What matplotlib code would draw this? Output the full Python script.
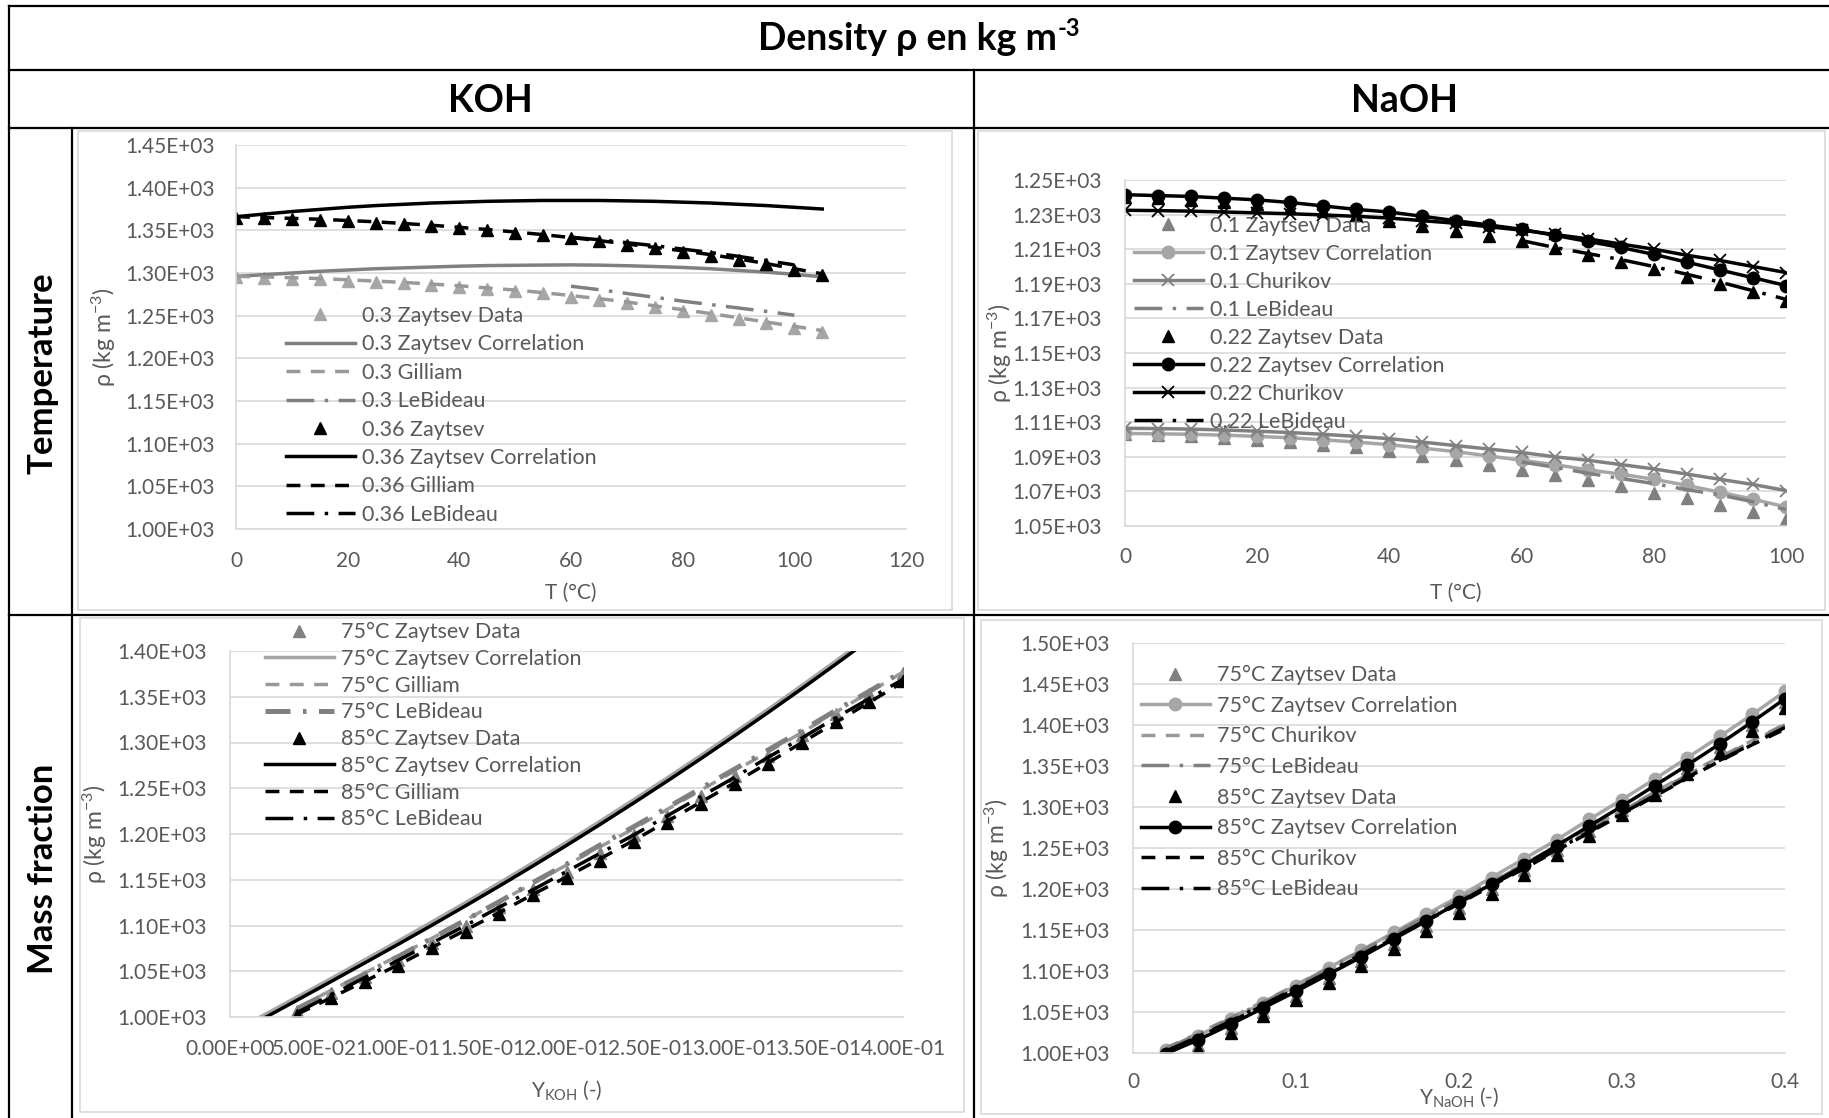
import numpy as np
import matplotlib.pyplot as plt
from matplotlib.ticker import FuncFormatter, FixedLocator
from matplotlib.lines import Line2D
from matplotlib.patches import Rectangle

plt.rcParams['font.family'] = ['Lato', 'DejaVu Sans']
plt.rcParams['mathtext.fontset'] = 'custom'
plt.rcParams['mathtext.rm'] = 'Lato'
plt.rcParams['mathtext.it'] = 'Lato:italic'
plt.rcParams['mathtext.bf'] = 'Lato:bold'

# ---- KOH, density vs temperature ----
T_KOH = [0, 5, 10, 15, 20, 25, 30, 35, 40, 45, 50, 55, 60, 65, 70, 75, 80, 85, 90, 95, 100, 105]
T_LEBIDEAU = [60, 65, 70, 75, 80, 85, 90, 95, 100]
koh30_data = [1295, 1294.5, 1293.5, 1292.5, 1291, 1289.5, 1288, 1286, 1284, 1281.5, 1279,
              1276, 1272, 1268.5, 1264.5, 1260, 1255.5, 1251, 1246, 1241, 1236, 1231]
koh30_corr = [1296, 1298, 1300, 1302, 1303.5, 1305, 1306, 1307, 1308, 1308.7, 1309,
              1309.3, 1309.5, 1309.2, 1308.5, 1307.6, 1306.5, 1305, 1303, 1301, 1298.5, 1295.5]
koh30_gilliam = [1296, 1295.5, 1294.5, 1293.5, 1292, 1290.5, 1289, 1287, 1285, 1282.5, 1280,
                 1277, 1273.5, 1270, 1266, 1261.5, 1257, 1252.5, 1247.5, 1242.5, 1237.5, 1232.5]
koh30_lebideau = [1284.5, 1280.5, 1276, 1271.5, 1267, 1263, 1259, 1255, 1250.5]
koh36_data = [1365, 1364, 1363, 1362, 1360.5, 1359, 1357, 1355, 1352.5, 1350, 1347,
              1344, 1340.5, 1337, 1333, 1329, 1325, 1320.5, 1315.5, 1310, 1304, 1298]
koh36_corr = [1366, 1369, 1372, 1374.5, 1377, 1379, 1380.5, 1382, 1383, 1384, 1384.5,
              1385, 1385, 1385, 1384.5, 1384, 1383, 1382, 1380.5, 1379, 1377, 1375]
koh36_gilliam = [1366, 1365, 1364, 1363, 1361.5, 1360, 1358, 1356, 1353.5, 1351, 1348,
                 1345, 1341.5, 1338, 1334, 1330, 1326, 1321.5, 1316.5, 1311, 1305, 1299]
koh36_lebideau = [1342, 1339, 1335.5, 1332, 1328, 1324, 1319.5, 1314.5, 1309.5]

# ---- NaOH, density vs temperature ----
T_NAOH = [0, 5, 10, 15, 20, 25, 30, 35, 40, 45, 50, 55, 60, 65, 70, 75, 80, 85, 90, 95, 100]
naoh10_data = [1103, 1102.5, 1102, 1101, 1100, 1098.5, 1097, 1095.5, 1093.5, 1090.5, 1088,
               1085.5, 1082.5, 1079.5, 1076.5, 1073, 1069, 1066, 1062, 1058, 1054]
naoh10_corr = [1103.5, 1103.3, 1103, 1102.5, 1101.8, 1101, 1099.8, 1098.5, 1097, 1095, 1093,
               1090.5, 1088, 1085.5, 1082.5, 1080, 1077, 1073.5, 1069.5, 1065.5, 1061]
naoh10_churikov = [1106.5, 1106.3, 1106, 1105.5, 1104.8, 1104, 1103, 1101.8, 1100.5, 1098.5, 1096.5,
                   1094.5, 1092.5, 1090, 1088, 1085.5, 1083, 1080, 1077, 1074, 1070.5]
naoh10_lebideau = [1087, 1084, 1080.5, 1077.5, 1074.5, 1071, 1068, 1064, 1059.5]
naoh22_data = [1240, 1239.5, 1238.5, 1237.5, 1236, 1234, 1232, 1229.5, 1226.5, 1223.5, 1220.5,
               1217.5, 1214.5, 1210.5, 1206.5, 1202.5, 1198.5, 1194, 1190, 1185, 1180]
naoh22_corr = [1241.5, 1241, 1240.5, 1239.5, 1238.5, 1237, 1235, 1233, 1231.5, 1229, 1226.5,
               1224, 1221.5, 1218, 1214.5, 1211, 1207, 1202.5, 1198, 1193.5, 1189]
naoh22_churikov = [1232.5, 1232.3, 1232, 1231.5, 1231, 1230.5, 1229.8, 1229, 1228, 1226.5, 1225,
                   1223, 1221, 1218.5, 1216, 1213, 1210, 1206.5, 1203.5, 1200, 1196.5]
naoh22_lebideau = [1215, 1211, 1207.5, 1204, 1200, 1195.5, 1191, 1186, 1181]

# ---- KOH, density vs mass fraction ----
Y_KOH_CORR = [0.00, 0.02, 0.04, 0.06, 0.08, 0.10, 0.12, 0.14, 0.16, 0.18, 0.20,
              0.22, 0.24, 0.26, 0.28, 0.30, 0.32, 0.34, 0.36, 0.38, 0.40]
Y_KOH = [0.04, 0.06, 0.08, 0.10, 0.12, 0.14, 0.16, 0.18, 0.20, 0.22,
         0.24, 0.26, 0.28, 0.30, 0.32, 0.34, 0.36, 0.38, 0.40]
koh75_corr = [982.5, 1002, 1022, 1042, 1062.5, 1083, 1104, 1125, 1146.5, 1168.5, 1191,
              1214, 1237.5, 1261.5, 1286, 1311, 1336.5, 1362.5, 1389, 1416, 1443.5]
koh85_corr = [979, 998.5, 1018.5, 1038.7, 1059, 1079.5, 1100.3, 1121.5, 1143, 1165, 1187.5,
              1210.5, 1234, 1258, 1282.5, 1307.5, 1333, 1359, 1385.5, 1412.5, 1440]
koh75_data = [1007, 1026, 1044, 1062, 1081, 1100, 1120, 1140, 1159, 1179,
              1199, 1220, 1241, 1263, 1285, 1308, 1331, 1353, 1376]
koh75_gilliam = [1010, 1029, 1048, 1067, 1086, 1106, 1126, 1146, 1166, 1186,
                 1206, 1227, 1248, 1269, 1290, 1311, 1333, 1355, 1377]
koh75_lebideau = [1009, 1028, 1047, 1066, 1086, 1106, 1126, 1147, 1167, 1188,
                  1208, 1229, 1250, 1271, 1292, 1313, 1335, 1356, 1378]
koh85_data = [1002, 1021, 1038, 1056, 1075, 1093, 1113, 1133, 1152, 1171,
              1191, 1212, 1233, 1255, 1277, 1299, 1322, 1344, 1367]
koh85_gilliam = [1003, 1021, 1039, 1057, 1076, 1095, 1114, 1134, 1153, 1173,
                 1193, 1214, 1235, 1256, 1278, 1300, 1322, 1344, 1366]
koh85_lebideau = [1005, 1024, 1043, 1062, 1081, 1100, 1120, 1139, 1159, 1179,
                  1199, 1220, 1241, 1262, 1284, 1305, 1327, 1348, 1369]

# ---- NaOH, density vs mass fraction ----
Y_NAOH_CORR = [0.02, 0.04, 0.06, 0.08, 0.10, 0.12, 0.14, 0.16, 0.18, 0.20,
               0.22, 0.24, 0.26, 0.28, 0.30, 0.32, 0.34, 0.36, 0.38, 0.40]
Y_NAOH = [0.04, 0.06, 0.08, 0.10, 0.12, 0.14, 0.16, 0.18, 0.20, 0.22,
          0.24, 0.26, 0.28, 0.30, 0.32, 0.34, 0.36, 0.38, 0.40]
naoh75_data = [1010, 1030, 1050, 1070, 1091, 1112, 1133, 1155, 1177, 1200,
               1223, 1247, 1271, 1296, 1321, 1347, 1373, 1400, 1428]
naoh75_corr = [1004, 1021, 1041, 1061, 1082, 1104, 1125, 1147, 1169, 1191,
               1214, 1237, 1260, 1285, 1309, 1334, 1360, 1386, 1413, 1441]
naoh75_churikov = [1006, 1024, 1043, 1063, 1083, 1104, 1125, 1146, 1167, 1188,
                   1209, 1231, 1252, 1274, 1296, 1318, 1340, 1361, 1381, 1401]
naoh75_lebideau = [1005, 1023, 1042, 1062, 1082, 1103, 1124, 1145, 1166, 1187,
                   1208, 1230, 1251, 1273, 1295, 1317, 1339, 1360, 1380, 1400]
naoh85_data = [1005, 1025, 1045, 1065, 1085, 1106, 1127, 1149, 1171, 1194,
               1217, 1241, 1265, 1290, 1315, 1340, 1366, 1393, 1421]
naoh85_corr = [999, 1016, 1035, 1055, 1075, 1096, 1117, 1139, 1161, 1184,
               1206, 1229, 1253, 1277, 1301, 1326, 1351, 1377, 1404, 1432]
naoh85_churikov = [1001, 1019, 1038, 1058, 1078, 1098, 1119, 1140, 1161, 1182,
                   1204, 1225, 1247, 1269, 1291, 1313, 1335, 1356, 1376, 1395]
naoh85_lebideau = [1002, 1020, 1039, 1059, 1079, 1099, 1120, 1141, 1162, 1183,
                   1205, 1226, 1248, 1270, 1292, 1314, 1336, 1357, 1377, 1397]

W, H = 1829, 1118
LIGHT = '#A6A6A6'
MID = '#808080'
DASHGRAY = '#999999'
TXT = '#595959'
GRID = '#D9D9D9'
DASH = (0, (4, 3))
LDASHDOT = (0, (8, 3, 1, 3))
LW = 2.5
MS = 9
FS = 15

fig = plt.figure(figsize=(W / 100, H / 100), dpi=100)


def add_ax(x0, y0, x1, y1):
    # rectangle given in pixels from the top-left corner
    return fig.add_axes([x0 / W, 1 - y1 / H, (x1 - x0) / W, (y1 - y0) / H])


def fig_line(x0, y0, x1, y1, color='black', lw=1.6):
    fig.add_artist(Line2D([x0 / W, x1 / W], [1 - y0 / H, 1 - y1 / H], color=color, lw=lw,
                          transform=fig.transFigure, solid_capstyle='projecting'))


def fig_box(x0, y0, x1, y1):
    fig.add_artist(Rectangle((x0 / W, 1 - y1 / H), (x1 - x0) / W, (y1 - y0) / H,
                             fill=False, ec=GRID, lw=1.2, transform=fig.transFigure))


def style(ax, box, xlim, xticks, ylim, yticks, xfmt, xlabel, xlab_y, ylab_x, xpad, ypad):
    ax.set_xlim(xlim)
    ax.set_ylim(ylim)
    ax.xaxis.set_major_locator(FixedLocator(xticks))
    ax.yaxis.set_major_locator(FixedLocator(yticks))
    ax.xaxis.set_major_formatter(FuncFormatter(xfmt))
    ax.yaxis.set_major_formatter(FuncFormatter(lambda v, p: format(v, '.2E')))
    ax.grid(axis='y', color=GRID, lw=1.2)
    ax.set_axisbelow(True)
    for s in ['top', 'right']:
        ax.spines[s].set_visible(False)
    for s in ['left', 'bottom']:
        ax.spines[s].set_color(GRID)
        ax.spines[s].set_linewidth(1.2)
    ax.tick_params(length=0, labelsize=FS, labelcolor=TXT)
    ax.tick_params(axis='x', pad=xpad)
    ax.tick_params(axis='y', pad=ypad)
    x0, y0, x1, y1 = box
    ax.set_xlabel(xlabel, fontsize=FS, color=TXT, va='center')
    ax.xaxis.set_label_coords(0.5, (y1 - xlab_y) / (y1 - y0))
    ax.set_ylabel('ρ (kg m$^{-3}$)', fontsize=16.5, color=TXT, va='center')
    ax.yaxis.set_label_coords((ylab_x - x0) / (x1 - x0), 0.5)


def legend(ax, box, left, top, spacing):
    x0, y0, x1, y1 = box
    ax.legend(loc='upper left', bbox_to_anchor=((left - x0) / (x1 - x0), (y1 - top) / (y1 - y0)),
              frameon=False, fontsize=15.5, labelcolor=TXT, handlelength=3.2,
              handletextpad=0.35, labelspacing=spacing, borderpad=0, borderaxespad=0,
              numpoints=1)


# ---- table frame ----
fig_line(9, 6, W, 6)
fig_line(9, 6, 9, H)
fig_line(9, 70, W, 70)
fig_line(9, 128, W, 128)
fig_line(9, 615, W, 615)
fig_line(974, 70, 974, H)
fig_line(72, 128, 72, H)

fig_box(78, 131, 952, 610)
fig_box(978, 131, 1825, 610)
fig_box(80, 618, 964, 1112)
fig_box(981, 620, 1822, 1114)

# title with a plain "-3" exponent set after the main text
renderer = fig.canvas.get_renderer()
title = fig.text(0, 1 - 39 / H, 'Density ρ en kg m', ha='left', va='center',
                 fontsize=27, fontweight='bold')
sup = fig.text(0, 1 - 29 / H, '-3', ha='left', va='center', fontsize=17, fontweight='bold')
w_main = title.get_window_extent(renderer).width
w_sup = sup.get_window_extent(renderer).width
x_start = 919 - (w_main + w_sup + 1) / 2
title.set_x(x_start / W)
sup.set_x((x_start + w_main + 1) / W)

fig.text(490 / W, 1 - 101 / H, 'KOH', ha='center', va='center', fontsize=27, fontweight='bold')
fig.text(1405 / W, 1 - 101 / H, 'NaOH', ha='center', va='center', fontsize=27, fontweight='bold')
fig.text(43 / W, 1 - 373 / H, 'Temperature', ha='center', va='center', rotation=90,
         fontsize=25, fontweight='bold')
fig.text(43 / W, 1 - 869 / H, 'Mass fraction', ha='center', va='center', rotation=90,
         fontsize=25, fontweight='bold')

int_fmt = lambda v, p: '%d' % v

# ---- KOH vs temperature ----
box = (236, 145, 906, 529)
ax = add_ax(*box)
ax.plot(T_KOH, koh30_data, ls='none', marker='^', ms=MS, color=LIGHT, label='0.3 Zaytsev Data')
ax.plot(T_KOH, koh30_corr, color=MID, lw=LW, label='0.3 Zaytsev Correlation')
ax.plot(T_KOH, koh30_gilliam, color=DASHGRAY, lw=LW, ls=DASH, label='0.3 Gilliam')
ax.plot(T_LEBIDEAU, koh30_lebideau, color=MID, lw=LW, ls=LDASHDOT, label='0.3 LeBideau')
ax.plot(T_KOH, koh36_data, ls='none', marker='^', ms=MS, color='black', label='0.36 Zaytsev')
ax.plot(T_KOH, koh36_corr, color='black', lw=LW, label='0.36 Zaytsev Correlation')
ax.plot(T_KOH, koh36_gilliam, color='black', lw=LW, ls=DASH, label='0.36 Gilliam')
ax.plot(T_LEBIDEAU, koh36_lebideau, color='black', lw=LW, ls=LDASHDOT, label='0.36 LeBideau')
style(ax, box, (0, 120), np.arange(0, 121, 20), (1000, 1450), np.arange(1000, 1451, 50),
      int_fmt, 'T (°C)', 593, 104, 16, 15)
legend(ax, box, 286, 306, 0.39)

# ---- NaOH vs temperature ----
box = (1125, 180, 1786, 526)
ax = add_ax(*box)
ax.plot(T_NAOH, naoh10_data, ls='none', marker='^', ms=MS, color=MID, label='0.1 Zaytsev Data')
ax.plot(T_NAOH, naoh10_corr, color=LIGHT, lw=LW, marker='o', ms=MS, label='0.1 Zaytsev Correlation')
ax.plot(T_NAOH, naoh10_churikov, color=MID, lw=LW, marker='x', ms=MS, mew=1.3, label='0.1 Churikov')
ax.plot(T_LEBIDEAU, naoh10_lebideau, color=MID, lw=LW, ls=LDASHDOT, label='0.1 LeBideau')
ax.plot(T_NAOH, naoh22_data, ls='none', marker='^', ms=MS, color='black', label='0.22 Zaytsev Data')
ax.plot(T_NAOH, naoh22_corr, color='black', lw=LW, marker='o', ms=MS, label='0.22 Zaytsev Correlation')
ax.plot(T_NAOH, naoh22_churikov, color='black', lw=LW, marker='x', ms=MS, mew=1.3, label='0.22 Churikov')
ax.plot(T_LEBIDEAU, naoh22_lebideau, color='black', lw=LW, ls=LDASHDOT, label='0.22 LeBideau')
style(ax, box, (0, 100), np.arange(0, 101, 20), (1050, 1250), np.arange(1050, 1251, 20),
      int_fmt, 'T (°C)', 593, 1000, 15, 17)
legend(ax, box, 1134, 216, 0.37)

# ---- KOH vs mass fraction ----
box = (230, 651, 903, 1017)
ax = add_ax(*box)
ax.plot(Y_KOH, koh75_data, ls='none', marker='^', ms=MS, color=MID, label='75°C Zaytsev Data')
ax.plot(Y_KOH_CORR, koh75_corr, color=LIGHT, lw=LW, label='75°C Zaytsev Correlation')
ax.plot(Y_KOH, koh75_gilliam, color=DASHGRAY, lw=LW, ls=DASH, label='75°C Gilliam')
ax.plot(Y_KOH, koh75_lebideau, color=MID, lw=3.6, ls=(0, (5, 2.5, 0.7, 2.5)), label='75°C LeBideau')
ax.plot(Y_KOH, koh85_data, ls='none', marker='^', ms=MS, color='black', label='85°C Zaytsev Data')
ax.plot(Y_KOH_CORR, koh85_corr, color='black', lw=LW, label='85°C Zaytsev Correlation')
ax.plot(Y_KOH, koh85_gilliam, color='black', lw=LW, ls=DASH, label='85°C Gilliam')
ax.plot(Y_KOH, koh85_lebideau, color='black', lw=LW, ls=LDASHDOT, label='85°C LeBideau')
style(ax, box, (0, 0.4), np.arange(0, 0.401, 0.05), (1000, 1400), np.arange(1000, 1401, 50),
      lambda v, p: format(v, '.2E'), r'Y$_{\mathrm{KOH}}$ (-)', 1090, 95, 16, 17)
legend(ax, box, 265, 622, 0.31)

# ---- NaOH vs mass fraction ----
box = (1133, 643, 1785, 1053)
ax = add_ax(*box)
ax.plot(Y_NAOH, naoh75_data, ls='none', marker='^', ms=MS, color=MID, label='75°C Zaytsev Data')
ax.plot(Y_NAOH_CORR, naoh75_corr, color=LIGHT, lw=LW, marker='o', ms=MS, label='75°C Zaytsev Correlation')
ax.plot(Y_NAOH_CORR, naoh75_churikov, color=DASHGRAY, lw=LW, ls=DASH, label='75°C Churikov')
ax.plot(Y_NAOH_CORR, naoh75_lebideau, color=MID, lw=LW, ls=LDASHDOT, label='75°C LeBideau')
ax.plot(Y_NAOH, naoh85_data, ls='none', marker='^', ms=MS, color='black', label='85°C Zaytsev Data')
ax.plot(Y_NAOH_CORR, naoh85_corr, color='black', lw=LW, marker='o', ms=MS, label='85°C Zaytsev Correlation')
ax.plot(Y_NAOH_CORR, naoh85_churikov, color='black', lw=LW, ls=DASH, label='85°C Churikov')
ax.plot(Y_NAOH_CORR, naoh85_lebideau, color='black', lw=LW, ls=LDASHDOT, label='85°C LeBideau')
style(ax, box, (0, 0.4), np.arange(0, 0.401, 0.1), (1000, 1500), np.arange(1000, 1501, 50),
      lambda v, p: '%g' % round(v, 2), r'Y$_{\mathrm{NaOH}}$ (-)', 1097, 997, 14, 17)
legend(ax, box, 1141, 665, 0.49)

fig.savefig('out.png', dpi=100, facecolor='white')
